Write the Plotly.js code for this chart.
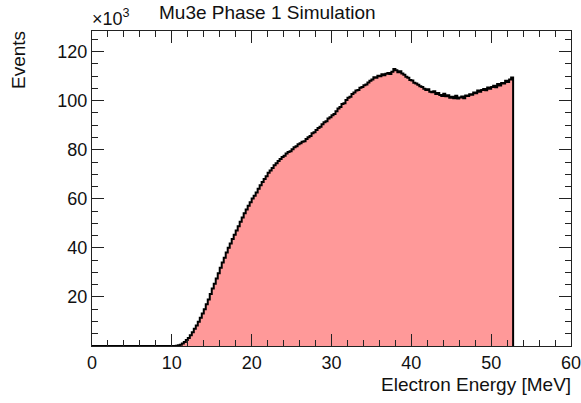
<!DOCTYPE html>
<html>
<head>
<meta charset="utf-8">
<script src="https://cdn.plot.ly/plotly-3.0.1.min.js"></script>
<style>html,body{margin:0;padding:0;background:#fff;}#chart{width:581px;height:403px;}</style>
</head>
<body>
<div id="chart"></div>
<script>
// Histogram: bin width 0.25 MeV, left edges start at 0 MeV
const binStart = 0;
const binWidth = 0.25;
// counts in units of 10^3 events
const zeroBins = [0,0,0,0,0,0,0,0,0,0, 0,0,0,0,0,0,0,0,0,0, 0,0,0,0,0,0,0,0,0,0, 0,0,0,0,0,0,0,0,0,0, 0];
const countsRise = [0.05,0.15,0.3,0.55,1.0,1.6,2.4,3.3,4.4,5.6,7.0,8.4,9.9,11.5,13.2,15.0,17.0,19.0,21.2,23.4,25.4,27.5,29.7,31.9,34.0,36.0,38.1,40.0,41.8,43.6,45.3,47.1,48.8,50.6,52.4,54.1,55.6,57.2,58.6,60.1,61.2,62.6,64.1,65.5,66.9,68.1,69.2,70.6,71.5,72.6,73.7,74.5,75.4,76.2,77.0,77.6];
const countsMid = [78.5,79.1,79.4,80.2,81.0,81.4,82.2,82.6,83.3,83.5,84.4,85.1,85.6,86.7,87.1,88.0,88.9,89.4,90.4,91.2,91.6,92.7,93.2,94.1,94.6,95.7,96.8,97.4,98.6,99.0,100.3,101.2,101.6,102.7,103.3,104.1,104.4,105.3,105.6,106.3,106.6,107.4,108.1,108.6,109.5,109.3,110.2,110.0,110.8,110.4,111.0,111.3,110.9,111.8,112.9,112.4,111.6,112.0,111.1,110.6,109.8,109.3,108.4];
const countsTail = [108.2,107.3,107.0,106.5,105.9,105.6,104.9,104.4,104.7,103.6,103.4,103.8,102.7,103.1,102.3,101.9,102.8,101.8,102.2,101.2,101.6,101.0,102.0,100.9,101.3,101.7,101.0,102.1,101.9,102.6,102.4,103.3,103.0,104.1,103.6,104.3,104.8,104.2,105.4,104.9,105.6,106.1,105.5,106.8,106.2,107.2,107.0,108.1,107.6,108.6,109.4];

const counts = zeroBins.concat(countsRise, countsMid, countsTail);
const xs = [], ys = [];
for (let i = 0; i < counts.length; i++) { xs.push(binStart + i*binWidth); ys.push(counts[i]); }
// closing edge of last bin
xs.push(binStart + counts.length*binWidth); ys.push(counts[counts.length-1]);
xs.push(binStart + counts.length*binWidth); ys.push(0);

const xTickVals = [0,10,20,30,40,50,60];
const yTickVals = [20,40,60,80,100,120];

const font = "Liberation Sans, Arial, Helvetica, sans-serif";

const trace = {
  type: 'scatter', mode: 'lines', x: xs, y: ys,
  line: {shape: 'hv', color: '#000', width: 2},
  fill: 'tozeroy', fillcolor: '#ff9999',
  hoverinfo: 'skip'
};

const axisCommon = {
  showgrid: false, zeroline: false, showline: true, linecolor: '#222', linewidth: 1,
  mirror: 'ticks', ticks: 'inside', tickcolor: '#222', ticklen: 12, tickwidth: 1,
  ticklabeloverflow: 'allow', automargin: false,
  tickfont: {family: font, size: 18, color: '#111'}
};

const layout = {
  width: 581, height: 403,
  margin: {l: 92, r: 10, t: 31, b: 57},
  paper_bgcolor: '#fff', plot_bgcolor: '#fff',
  showlegend: false,
  xaxis: Object.assign({}, axisCommon, {
    range: [0, 60], tickvals: xTickVals, ticktext: xTickVals.map(String),
    minor: {dtick: 2, ticks: 'inside', ticklen: 6, tickcolor: '#222', showgrid: false}
  }),
  yaxis: Object.assign({}, axisCommon, {
    range: [0, 128.4], tickvals: yTickVals, ticktext: yTickVals.map(String),
    minor: {dtick: 5, ticks: 'inside', ticklen: 6, tickcolor: '#222', showgrid: false}
  }),
  annotations: [
    {text: 'Mu3e Phase 1 Simulation', xref: 'paper', yref: 'paper', x: 0.136, y: 1, yshift: 6,
     xanchor: 'left', yanchor: 'bottom', showarrow: false, font: {family: font, size: 19, color: '#111'}},
    {text: '×10<sup>3</sup>', xref: 'paper', yref: 'paper', x: -0.004, y: 1, yshift: 0,
     xanchor: 'left', yanchor: 'bottom', showarrow: false, font: {family: font, size: 18, color: '#111'}},
    {text: 'Electron Energy [MeV]', xref: 'paper', yref: 'paper', x: 1, xshift: 2, y: 0, yshift: -26,
     xanchor: 'right', yanchor: 'top', showarrow: false, font: {family: font, size: 19, color: '#111'}},
    {text: 'Events', xref: 'paper', yref: 'paper', x: 0, xshift: -74, y: 1, yshift: 2,
     xanchor: 'center', yanchor: 'top', textangle: -90, showarrow: false, font: {family: font, size: 19, color: '#111'}}
  ]
};

Plotly.newPlot('chart', [trace], layout, {staticPlot: true, displayModeBar: false});
</script>
</body>
</html>
